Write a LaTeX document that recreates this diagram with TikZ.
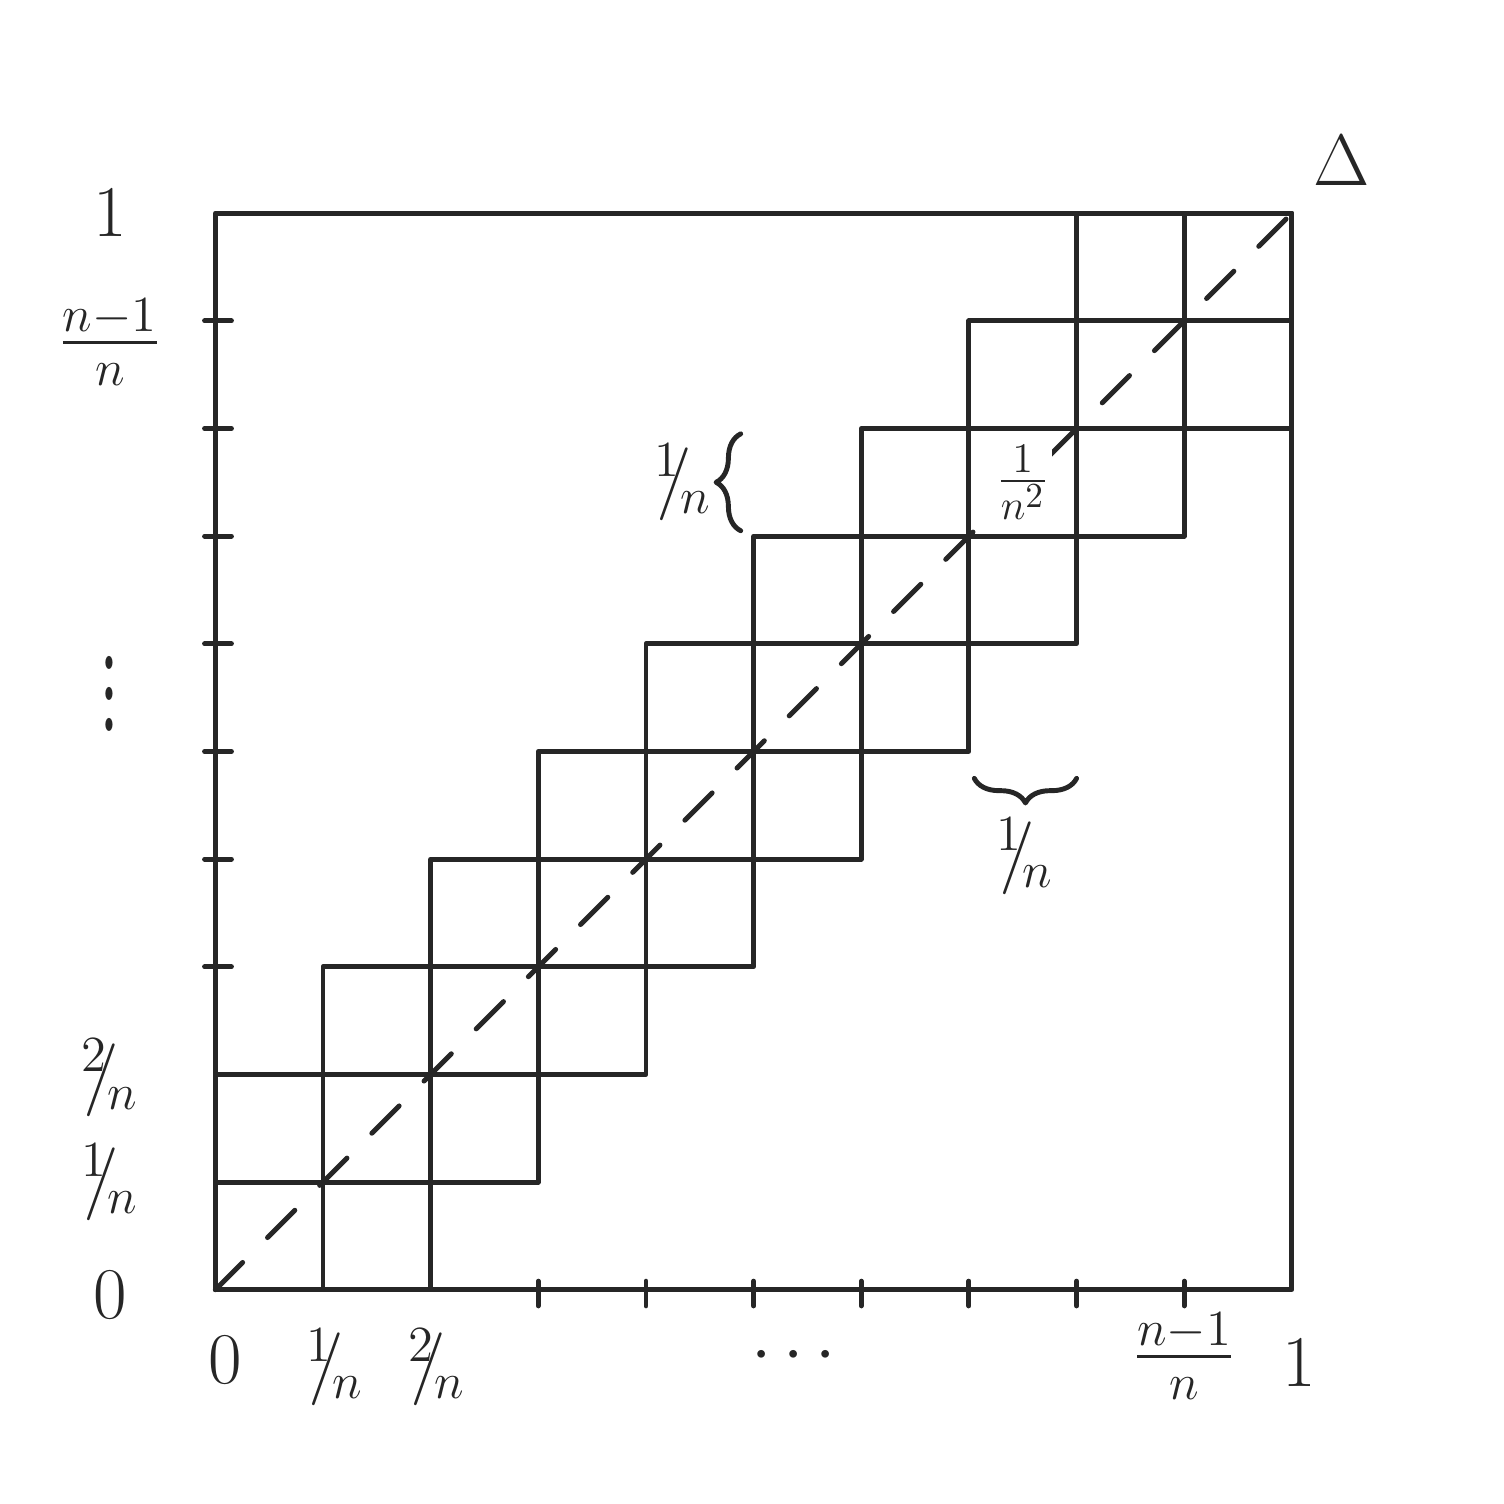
\documentclass[tikz,border=0pt]{standalone}
\usepackage{amsmath,amssymb}
\usepackage{tikz}
\usetikzlibrary{positioning,calc,decorations.pathreplacing}
\definecolor{PencilGray}{RGB}{38,38,38}
\newcommand{\slfrac}[2]{$^{#1}\!\!/\!_{#2}$}

\begin{document}
\begin{tikzpicture}[x=1.077cm,y=1.077cm,
 pen/.style={draw=PencilGray,line width=1.4pt,line cap=round,line join=round},
 diag/.style={pen,dash pattern=on 11pt off 10pt},
 lbl/.style={font=\huge,text=PencilGray,inner sep=1pt},
 brace/.style={pen,decorate,decoration={brace,amplitude=7pt}}]
\useasboundingbox (-2.0,-1.99) rectangle (11.97,11.98);
% unit square and the band of cells
\draw[pen] (0,0) rectangle (10,10);
\foreach \i in {0,...,9}
 \foreach \j in {0,...,9}
 {\pgfmathtruncatemacro{\d}{abs(\i-\j)}
  \ifnum\d<2 \draw[pen] (\i,\j) rectangle ++(1,1); \fi}
\draw[diag] (0,0) -- (10.05,10.05);
% ticks
\foreach \k in {3,...,9} {\draw[pen] (-0.1,\k) -- (0.15,\k);
 \draw[pen] (\k,0.08) -- (\k,-0.15);}
% axis labels
\node[lbl] (yone) at (-0.98,10) {$1$};
\node[lbl] (ynm) at (-0.98,8.8) {$\frac{n-1}{n}$};
\node[lbl] (ydots) at (-0.98,5.75) {\scalebox{1.2}[2.2]{$\vdots$}};
\node[lbl] (ytwo) at (-0.98,1.97) {\slfrac{2}{n}};
\node[lbl] (yonen) at (-0.98,1.0) {\slfrac{1}{n}};
\node[lbl] (yzero) at (-0.98,-0.05) {$0$};
\node[lbl] (xzero) at (0.09,-0.65) {$0$};
\node[lbl] (xonen) at (1.11,-0.72) {\slfrac{1}{n}};
\node[lbl] (xtwo) at (2.06,-0.72) {\slfrac{2}{n}};
\node[lbl] (xdots) at (5.43,-0.62) {$\cdots$};
\node[lbl] (xnm) at (9.0,-0.62) {$\frac{n-1}{n}$};
\node[lbl] (xone) at (10.07,-0.68) {$1$};
\node[lbl] (delta) at (10.46,10.49) {$\Delta$};
% cell size annotations
\coordinate (bra) at (4.88,7.05);
\coordinate (brb) at (4.88,7.95);
\draw[brace] (bra) -- (brb);
\node[lbl,left=0.25cm of $(bra)!0.5!(brb)$] (rowlbl) {\slfrac{1}{n}};
\coordinate (bca) at (8.0,4.75);
\coordinate (bcb) at (7.05,4.75);
\draw[brace] (bca) -- (bcb);
\node[lbl,below=0.35cm of $(bca)!0.5!(bcb)$] (collbl) {\slfrac{1}{n}};
\node[lbl,font=\LARGE,fill=white] (area) at (7.5,7.5) {$\frac{1}{n^2}$};
\end{tikzpicture}
\end{document}
